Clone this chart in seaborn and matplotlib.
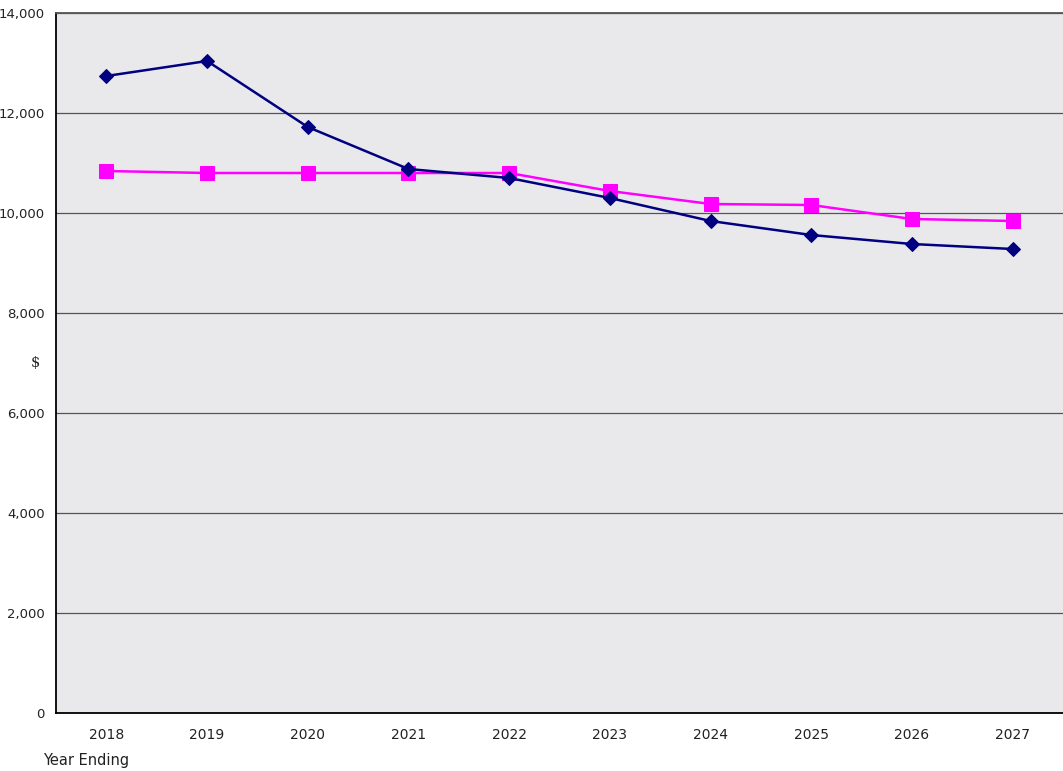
import matplotlib
matplotlib.use("Agg")
import matplotlib.pyplot as plt
import seaborn as sns
import pandas as pd
import numpy as np

# --- datos ---
years = ["2018", "2019", "2020", "2021", "2022", "2023", "2024", "2025", "2026", "2027"]
serie_azul = [12740, 13040, 11720, 10880, 10700, 10300, 9840, 9560, 9380, 9280]
serie_magenta = [10840, 10800, 10800, 10800, 10800, 10440, 10180, 10160, 9880, 9840]

df = pd.DataFrame({
    "pos": list(range(len(years))) * 2,
    "valor": serie_azul + serie_magenta,
    "serie": ["azul"] * len(years) + ["magenta"] * len(years),
})

sns.set_style("white")
plt.rcParams['font.family'] = ['DejaVu Sans']

fig = plt.figure(figsize=(10.63, 7.71), dpi=100)
ax = fig.add_axes([56 / 1063, 58 / 771, 1007 / 1063, 700 / 771])
ax.set_facecolor("#e9e9ec")

sns.lineplot(data=df[df.serie == "azul"], x="pos", y="valor", ax=ax,
             color="#000080", lw=1.8, marker="D", markersize=7.5,
             markeredgecolor="#000080", zorder=4)
sns.lineplot(data=df[df.serie == "magenta"], x="pos", y="valor", ax=ax,
             color="#ff00ff", lw=1.8, marker="s", markersize=10.5,
             markeredgecolor="#ff00ff", zorder=3)

ax.set_xlim(-0.5, len(years) - 0.5)
ax.set_ylim(0, 14000)
ax.set_yticks(np.arange(0, 14001, 2000))
ax.set_yticklabels([f"{v:,}" for v in range(0, 14001, 2000)], fontsize=9.5, color="#222222")
ax.yaxis.grid(True, color="#555555", lw=0.9)
ax.set_axisbelow(True)

ax.set_xticks(range(len(years)))
ax.set_xticklabels(years, fontsize=10, color="#222222")
ax.set_xticks(np.arange(-0.5, len(years), 1), minor=True)
ax.tick_params(axis="x", which="major", length=0, pad=11)
ax.tick_params(axis="x", which="minor", length=5, color="black", direction="out")
ax.tick_params(axis="y", length=5, color="black", direction="out", pad=3)

for lado in ["left", "bottom"]:
    ax.spines[lado].set_color("black")
    ax.spines[lado].set_linewidth(1.3)
ax.spines["top"].set_color("#555555")
ax.spines["top"].set_linewidth(1.3)
ax.spines["right"].set_visible(False)

ax.set_xlabel("")
ax.set_ylabel("$", rotation=0, fontsize=10.5, family="DejaVu Serif", va="center")
ax.yaxis.set_label_coords(-0.02, 0.5)
fig.text(43 / 1063, 1 - 761 / 771, "Year Ending", fontsize=10.5, color="#222222",
         ha="left", va="center")

fig.savefig("out.png", dpi=100)
